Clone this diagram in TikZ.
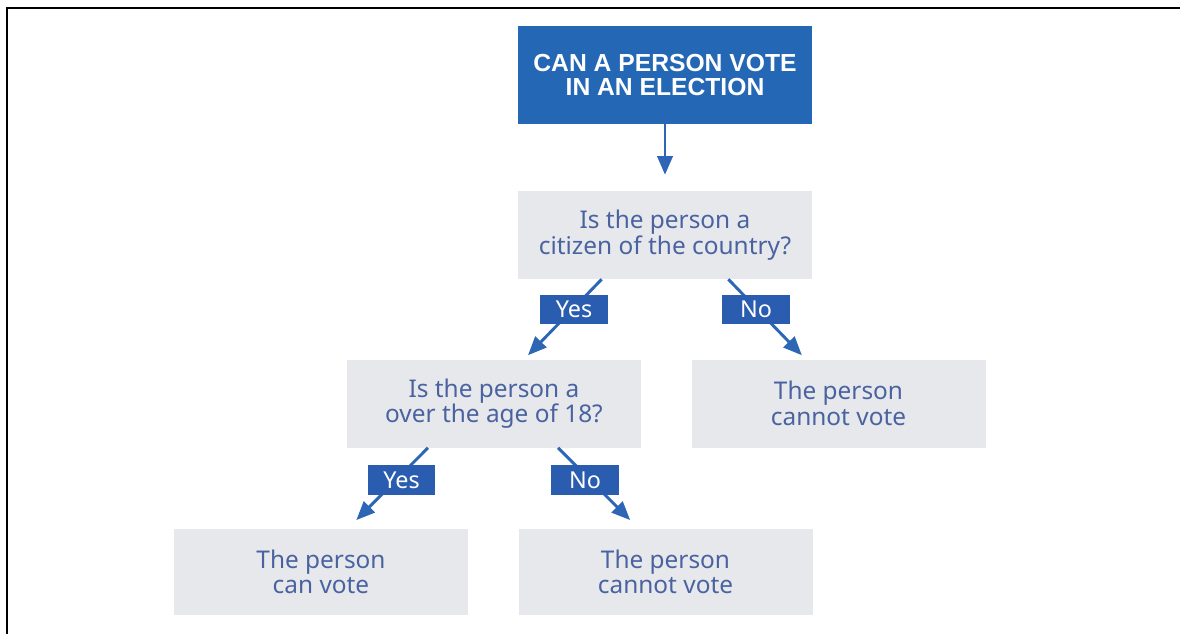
\documentclass[tikz,border=0pt]{standalone}
\usepackage{fontspec}
\setmainfont{Noto Sans}
\newfontfamily\headfont{Liberation Sans}
\usetikzlibrary{arrows.meta,calc}

\definecolor{headblue}{HTML}{2467B5}
\definecolor{tagblue}{HTML}{2A5DAF}
\definecolor{arrowblue}{HTML}{2C66B4}
\definecolor{boxgray}{HTML}{E6E8EC}
\definecolor{textblue}{HTML}{4A63A0}

\tikzset{
  headbox/.style={fill=headblue, text=white, inner sep=0pt, align=center,
    minimum width=220.5pt, minimum height=73.5pt,
    font=\headfont\fontsize{18.5}{18}\selectfont\bfseries},
  askbox/.style={fill=boxgray, text=textblue, inner sep=0pt, align=center,
    minimum width=220.5pt, minimum height=66pt,
    font=\fontsize{18.3}{19}\selectfont},
  endbox/.style={askbox, minimum height=64.5pt},
  tagbox/.style={fill=tagblue, text=white, inner sep=0pt,
    minimum width=50.5pt, minimum height=22pt,
    font=\fontsize{17.5}{18}\selectfont},
  flow/.style={draw=arrowblue, line width=2.2pt,
    -{Triangle[length=14pt,width=11.5pt]}},
}

\begin{document}
\begin{tikzpicture}[x=0.75pt, y=-0.75pt]
  \useasboundingbox (0,0) rectangle (1180,634);
  \fill[white] (0,0) rectangle (1180,634);

  % frame lines along the top and left edges
  \draw[line width=1.6pt, black] (7,634) -- (7,8) -- (1180,8);

  % boxes
  \node[headbox] (title) at (665,75)    {CAN A PERSON VOTE\\IN AN ELECTION};
  \node[askbox]  (citizen) at (665,235) {Is the person a\\citizen of the country?};
  \node[askbox]  (age) at (494,403.5)   {Is the person a\\over the age of 18?};
  \node[askbox]  (noA) at (838.5,403.5) {The person\\cannot vote};
  \node[endbox]  (can) at (321,572)     {The person\\can vote};
  \node[endbox]  (noB) at (665.5,572)   {The person\\cannot vote};

  % connectors
  \draw[flow] (title.south) -- ([yshift=12pt]citizen.north);
  \draw[flow] ([xshift=-47.5pt]citizen.south) -- ([xshift=25.5pt,yshift=3pt]age.north);
  \draw[flow] ([xshift=47.5pt]citizen.south) -- ([xshift=-27.5pt,yshift=3pt]noA.north);
  \draw[flow] ([xshift=-49.5pt]age.south) -- ([xshift=26.5pt,yshift=6.5pt]can.north);
  \draw[flow] ([xshift=48pt]age.south) -- ([xshift=-26.5pt,yshift=6.5pt]noB.north);

  % answer tags sitting on the connectors
  \node[tagbox] (yesA) at (574,309.5) {Yes};
  \node[tagbox] (noTagA) at (756,309.5) {No};
  \node[tagbox] (yesB) at (401.5,480) {Yes};
  \node[tagbox] (noTagB) at (585,480) {No};
\end{tikzpicture}
\end{document}
